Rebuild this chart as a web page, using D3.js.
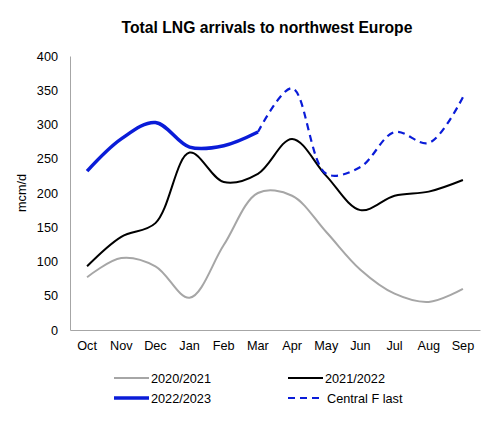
<!DOCTYPE html>
<html><head><meta charset="utf-8">
<script src="https://cdn.jsdelivr.net/npm/d3@7"></script>
<style>body{margin:0;background:#fff;font-family:Arial,"Liberation Sans",sans-serif;}</style>
</head><body>
<svg id="c" width="501" height="435"></svg>
<script>
const months = ["Oct","Nov","Dec","Jan","Feb","Mar","Apr","May","Jun","Jul","Aug","Sep"];
const s2020 = [77,105,93,47,124,200,196,143,88,53,41,60];
const s2021 = [93,136,156,259,216,228,279,225,175,196,202,219];
const s2022 = [232,279,303,267,269,289,null,null,null,null,null,null];
const central = [null,null,null,null,null,289,353,228,238,289,273,340];
const yTicks = [0,50,100,150,200,250,300,350,400];

const svg = d3.select("#c");
const W = 501, H = 435;
const FS = 12.7;
const FF = "Arial,Liberation Sans,sans-serif";
svg.append("rect").attr("width",W).attr("height",H).attr("fill","#fff");
const x = d3.scaleBand().domain(months).range([70,480]);
const y = d3.scaleLinear().domain([0,400]).range([330,56]);

svg.append("text").attr("x",267).attr("y",33).attr("text-anchor","middle")
  .attr("font-size",15.7).attr("font-weight","bold").attr("fill","#000").attr("font-family",FF)
  .text("Total LNG arrivals to northwest Europe");

// axes
const ya = svg.append("g").attr("transform","translate(70,0)")
  .call(d3.axisLeft(y).tickValues(yTicks).tickSize(0).tickPadding(12));
ya.select(".domain").attr("stroke","#a6a6a6").attr("stroke-width",1);
ya.selectAll("text").attr("font-size",FS).attr("fill","#000").attr("font-family",FF);
const xa = svg.append("g").attr("transform","translate(0,330)")
  .call(d3.axisBottom(x).tickSize(0).tickPadding(11));
xa.select(".domain").attr("stroke","#a6a6a6").attr("stroke-width",1);
xa.selectAll("text").attr("font-size",FS).attr("fill","#000").attr("font-family",FF);

svg.append("text").attr("transform","translate(26,193) rotate(-90)")
  .attr("text-anchor","middle").attr("font-size",FS).attr("fill","#000").attr("font-family",FF).text("mcm/d");

const cx = m => x(m) + x.bandwidth()/2;
const line = d3.line().defined(d=>d[1]!=null).x(d=>cx(d[0])).y(d=>y(d[1])).curve(d3.curveCatmullRom.alpha(0.5));
const mk = arr => months.map((m,i)=>[m,arr[i]]);
const blue = "#0a1cd8";
svg.append("path").attr("d",line(mk(s2020))).attr("fill","none").attr("stroke","#a6a6a6").attr("stroke-width",2);
svg.append("path").attr("d",line(mk(s2021))).attr("fill","none").attr("stroke","#000").attr("stroke-width",2);
svg.append("path").attr("d",line(mk(central))).attr("fill","none").attr("stroke",blue).attr("stroke-width",2.2).attr("stroke-dasharray","7,5");
svg.append("path").attr("d",line(mk(s2022))).attr("fill","none").attr("stroke",blue).attr("stroke-width",3.5);

// legend
const leg = [
  {t:"2020/2021",c:"#a6a6a6",w:2,d:null,x:114,y:378},
  {t:"2021/2022",c:"#000",w:2,d:null,x:288,y:378},
  {t:"2022/2023",c:blue,w:3.5,d:null,x:114,y:398},
  {t:"Central F last",c:blue,w:2.2,d:"7,5",x:288,y:398}
];
leg.forEach(l=>{
  svg.append("line").attr("x1",l.x).attr("x2",l.x+35).attr("y1",l.y).attr("y2",l.y)
    .attr("stroke",l.c).attr("stroke-width",l.w).attr("stroke-dasharray",l.d);
  svg.append("text").attr("x",l.x+(l.d?39:37)).attr("y",l.y+4.5).attr("font-size",FS).attr("fill","#000").attr("font-family",FF).text(l.t);
});
</script>
</body></html>
